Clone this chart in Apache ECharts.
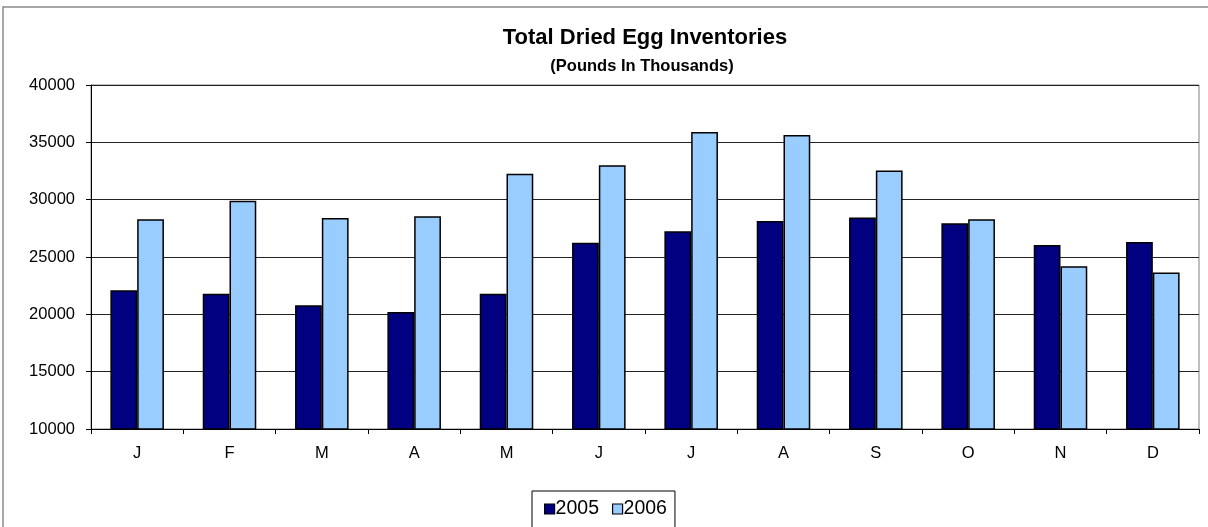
<!DOCTYPE html>
<html>
<head>
<meta charset="utf-8">
<title>Total Dried Egg Inventories</title>
<script src="https://cdn.jsdelivr.net/npm/echarts@6/dist/echarts.min.js"></script>
<style>
  html, body { margin: 0; padding: 0; background: #fff; }
  #chart { width: 1208px; height: 527px; }
</style>
</head>
<body>
<div id="chart"></div>
<script>
// months shown on the x axis
var months = ['J', 'F', 'M', 'A', 'M', 'J', 'J', 'A', 'S', 'O', 'N', 'D'];
// inventories, pounds in thousands
var y2005 = [22100, 21800, 20800, 20200, 21800, 26250, 27250, 28150, 28450, 27950, 26050, 26300];
var y2006 = [28300, 29900, 28400, 28550, 32250, 33000, 35900, 35650, 32550, 28300, 24200, 23650];
var yTicks = { min: 10000, max: 40000, step: 5000 };

var font = "'Liberation Sans', Arial, sans-serif";

var chart = echarts.init(document.getElementById('chart'));
chart.setOption({
  animation: false,
  textStyle: { fontFamily: font, color: '#000' },
  title: [
    {
      text: 'Total Dried Egg Inventories',
      left: 640, top: 22, textAlign: 'center',
      textStyle: { fontFamily: font, fontSize: 22, fontWeight: 'bold', color: '#000' }
    },
    {
      text: '(Pounds In Thousands)',
      left: 637, top: 53, textAlign: 'center',
      textStyle: { fontFamily: font, fontSize: 16.5, fontWeight: 'bold', color: '#000' }
    }
  ],
  legend: {
    left: 532, top: 491,
    padding: [8, 8, 30, 12],
    borderColor: '#000', borderWidth: 1,
    itemWidth: 10, itemHeight: 10, itemGap: 13,
    icon: 'rect',
    itemStyle: { borderColor: '#000', borderWidth: 1.2 },
    textStyle: { fontFamily: font, fontSize: 19.5, color: '#000', padding: [0, 0, 0, -4] },
    data: ['2005', '2006']
  },
  graphic: [{
    type: 'rect',
    shape: { x: 3, y: 7, width: 1230, height: 600 },
    style: { fill: null, stroke: '#8a8a8a', lineWidth: 1.5 },
    silent: true
  }],
  grid: {
    left: 91, right: 9, top: 85, bottom: 98,
    show: true, borderColor: '#808080', borderWidth: 1
  },
  xAxis: {
    type: 'category',
    data: months,
    axisLine: { lineStyle: { color: '#000', width: 1 } },
    axisTick: { show: true, length: 5, lineStyle: { color: '#000' } },
    axisLabel: { fontFamily: font, fontSize: 16.5, color: '#000', margin: 16 }
  },
  yAxis: {
    type: 'value',
    min: yTicks.min, max: yTicks.max, interval: yTicks.step,
    axisLine: { show: true, lineStyle: { color: '#000', width: 1 } },
    axisTick: { show: true, length: 5, lineStyle: { color: '#000' } },
    axisLabel: {
      fontFamily: font, fontSize: 16.5, color: '#000', margin: 16,
      formatter: function (v) { return String(v); }
    },
    splitLine: { lineStyle: { color: '#222', width: 1 } }
  },
  series: [
    {
      name: '2005', type: 'bar', data: y2005,
      barGap: '0%', barCategoryGap: '42%',
      itemStyle: { color: '#000080', borderColor: '#000', borderWidth: 1.5 }
    },
    {
      name: '2006', type: 'bar', data: y2006,
      barGap: '0%', barCategoryGap: '42%',
      itemStyle: { color: '#99ccff', borderColor: '#000', borderWidth: 1.5 }
    }
  ]
});
</script>
</body>
</html>
